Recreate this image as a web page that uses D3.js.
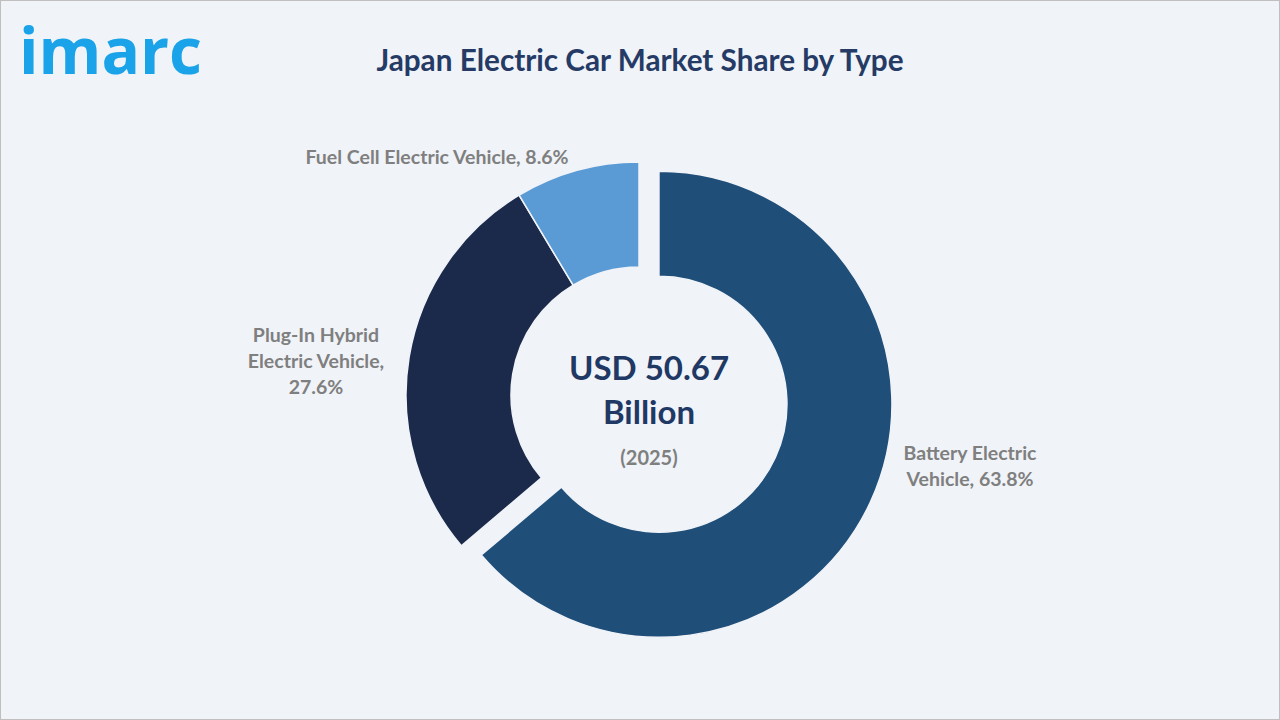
<!DOCTYPE html>
<html><head><meta charset="utf-8">
<script src="https://cdn.jsdelivr.net/npm/d3@7/dist/d3.min.js"></script>
<style>html,body{margin:0;padding:0;background:#fff;}svg{display:block;}</style>
</head><body>
<svg id="chart" width="1280" height="720"></svg>
<script>
// ---- data ----
const categories = ["Battery Electric Vehicle", "Plug-In Hybrid Electric Vehicle", "Fuel Cell Electric Vehicle"];
const shares = [63.8, 27.6, 8.6];
const labelLines = [["Battery Electric", "Vehicle, 63.8%"], ["Plug-In Hybrid", "Electric Vehicle,", "27.6%"], ["Fuel Cell Electric Vehicle, 8.6%"]];
const centerLines = ["USD 50.67", "Billion", "(2025)"];
const titleText = "Japan Electric Car Market Share by Type";

// ---- layout / style ----
const colors = ["#1F4E79", "#1B2A4A", "#5B9BD5"];
const explode = [22, 0, 0];
const labelPos = [[970, 466], [316, 361], [437, 157]];
const cx = 639, cy = 395, rOuter = 233, rInner = 128;
const font = "Lato, 'Open Sans', 'Liberation Sans', sans-serif";

const svg = d3.select("#chart");
svg.append("rect").attr("x", 0.5).attr("y", 0.5).attr("width", 1279).attr("height", 719)
  .attr("fill", "#F0F3F8").attr("stroke", "#BFBFBF").attr("stroke-width", 1);

// logo
svg.append("text").attr("x", 19).attr("y", 74).attr("fill", "#1AA3E8")
  .attr("font-family", "'Open Sans', Lato, sans-serif").attr("font-weight", 700)
  .attr("font-size", 64).attr("letter-spacing", 0).text("imarc");

// title
svg.append("text").attr("x", 640).attr("y", 71).attr("text-anchor", "middle")
  .attr("fill", "#253B66").attr("font-family", font).attr("font-weight", 700)
  .attr("font-size", 29.7).text(titleText);

const pie = d3.pie().sort(null).value(d => d)(shares);
const arc = d3.arc().innerRadius(rInner).outerRadius(rOuter);
const g = svg.append("g").attr("transform", `translate(${cx},${cy})`);
g.selectAll("path").data(pie).join("path")
  .attr("d", arc)
  .attr("fill", (d, i) => colors[i])
  .attr("stroke", "#F0F3F8").attr("stroke-width", 1.5)
  .attr("transform", (d, i) => {
    const a = (d.startAngle + d.endAngle) / 2;
    return `translate(${Math.sin(a) * explode[i]},${-Math.cos(a) * explode[i]})`;
  });

// labels
labelLines.forEach((lines, i) => {
  const t = svg.append("text").attr("text-anchor", "middle").attr("fill", "#7F7F7F")
    .attr("font-family", font).attr("font-weight", 700).attr("font-size", 19.5);
  const n = lines.length;
  lines.forEach((l, j) => {
    t.append("tspan").attr("x", labelPos[i][0]).attr("y", labelPos[i][1] + (j - (n - 1) / 2) * 26 + 7).text(l);
  });
});

// center text
const tx = cx + 10;
svg.append("text").attr("x", tx).attr("y", 380).attr("text-anchor", "middle").attr("fill", "#1F3864")
  .attr("font-family", font).attr("font-weight", 700).attr("font-size", 33).text(centerLines[0]);
svg.append("text").attr("x", tx).attr("y", 424).attr("text-anchor", "middle").attr("fill", "#1F3864")
  .attr("font-family", font).attr("font-weight", 700).attr("font-size", 33).text(centerLines[1]);
svg.append("text").attr("x", tx).attr("y", 465).attr("text-anchor", "middle").attr("fill", "#7F7F7F")
  .attr("font-family", font).attr("font-weight", 700).attr("font-size", 20).text(centerLines[2]);
</script>
</body></html>
